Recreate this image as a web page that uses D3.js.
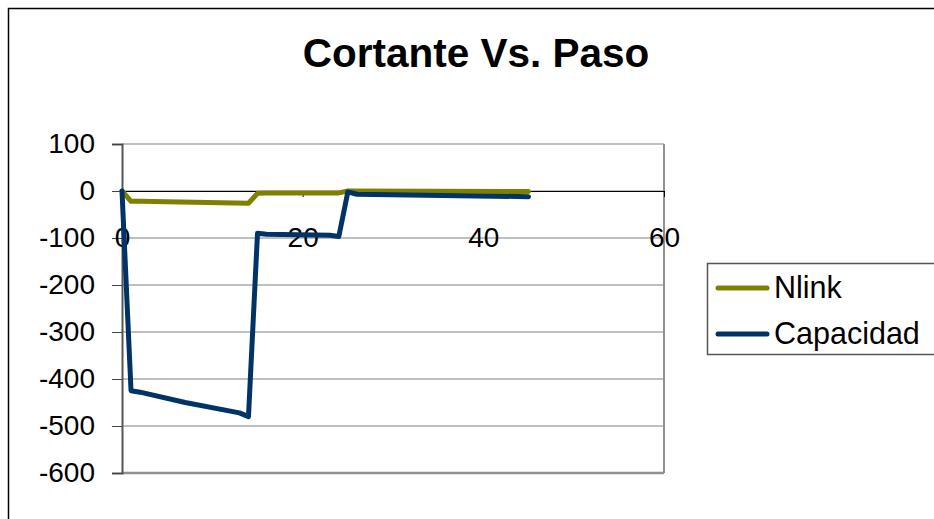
<!DOCTYPE html>
<html>
<head>
<meta charset="utf-8">
<script src="https://cdn.jsdelivr.net/npm/d3@7"></script>
<style>
  html, body { margin: 0; padding: 0; background: #fff; }
  svg { display: block; font-family: "Liberation Sans", Arial, sans-serif; }
</style>
</head>
<body>
<svg id="chart" width="934" height="519"></svg>
<script>
// Shear force per step for the link element and the capacity curve
const nlinkPaso = [0, 1, 2, 14, 15, 16, 24, 25, 45];
const nlinkCortante = [0, -22, -22, -26, -5, -4, -4, 0, -1];

const capPaso = [0, 1, 2, 7, 13, 14, 15, 16, 23, 24, 25, 26, 45];
const capCortante = [0, -425, -428, -450, -472, -480, -90, -92, -94, -97, -2, -7, -12];

const xTicks = [0, 20, 40, 60];
const yTicks = [100, 0, -100, -200, -300, -400, -500, -600];

const seriesNames = ["Nlink", "Capacidad"];
const seriesColors = ["#808000", "#003366"];

const svg = d3.select("#chart");

// chart frame
svg.append("rect")
  .attr("x", 8.5).attr("y", 8.5)
  .attr("width", 940).attr("height", 530)
  .attr("fill", "#fff").attr("stroke", "#000").attr("stroke-width", 1.5);

const x = d3.scaleLinear().domain([0, 60]).range([122, 664]);
const y = d3.scaleLinear().domain([-600, 100]).range([473, 144]);

// title
svg.append("text")
  .attr("x", 476).attr("y", 67)
  .attr("text-anchor", "middle")
  .attr("font-size", 40.5).attr("font-weight", "bold")
  .text("Cortante Vs. Paso");

// horizontal gridlines
svg.append("g")
  .selectAll("line")
  .data(yTicks)
  .join("line")
  .attr("x1", x(0)).attr("x2", x(60))
  .attr("y1", d => y(d)).attr("y2", d => y(d))
  .attr("stroke", "#808080").attr("stroke-width", 1);

// plot area right and bottom borders
svg.append("line")
  .attr("x1", x(60)).attr("x2", x(60)).attr("y1", y(100)).attr("y2", y(-600))
  .attr("stroke", "#909090").attr("stroke-width", 2);
svg.append("line")
  .attr("x1", x(0)).attr("x2", x(60)).attr("y1", y(-600)).attr("y2", y(-600))
  .attr("stroke", "#909090").attr("stroke-width", 2.5);

// plain hyphen-minus labels
const plain = d => String(d);

// y axis
const yAxis = svg.append("g")
  .attr("transform", `translate(${x(0)},0)`)
  .call(d3.axisLeft(y).tickValues(yTicks).tickSize(10).tickPadding(17).tickFormat(plain));
yAxis.select(".domain").attr("stroke", "#555").attr("stroke-width", 2);
yAxis.selectAll(".tick line").attr("stroke", "#444");
yAxis.selectAll("text")
  .attr("font-size", 28).attr("fill", "#000")
  .attr("font-family", "Liberation Sans, Arial, sans-serif");

// x axis crossing at zero
const xAxis = svg.append("g")
  .attr("transform", `translate(0,${y(0)})`)
  .call(d3.axisBottom(x).tickValues(xTicks).tickSize(6).tickPadding(30).tickSizeOuter(0).tickFormat(plain));
xAxis.select(".domain").attr("stroke", "#000").attr("stroke-width", 1.2);
xAxis.selectAll(".tick line").attr("stroke", "#000");
xAxis.selectAll("text")
  .attr("font-size", 28).attr("fill", "#000")
  .attr("font-family", "Liberation Sans, Arial, sans-serif");

// series
const line = d3.line().x(d => x(d[0])).y(d => y(d[1]));
const series = [
  d3.zip(nlinkPaso, nlinkCortante),
  d3.zip(capPaso, capCortante)
];
series.forEach((pts, i) => {
  svg.append("path")
    .datum(pts)
    .attr("d", line)
    .attr("fill", "none")
    .attr("stroke", seriesColors[i])
    .attr("stroke-width", 5)
    .attr("stroke-linejoin", "round")
    .attr("stroke-linecap", "round");
});

// legend
const legend = svg.append("g");
legend.append("rect")
  .attr("x", 707.5).attr("y", 263.5)
  .attr("width", 240).attr("height", 91)
  .attr("fill", "#fff").attr("stroke", "#555").attr("stroke-width", 1.5);
seriesNames.forEach((name, i) => {
  const cy = 288 + i * 46;
  legend.append("line")
    .attr("x1", 718).attr("x2", 767).attr("y1", cy).attr("y2", cy)
    .attr("stroke", seriesColors[i]).attr("stroke-width", 5)
    .attr("stroke-linecap", "round");
  legend.append("text")
    .attr("x", 774).attr("y", cy + 10)
    .attr("font-size", 30.5)
    .text(name);
});
</script>
</body>
</html>
